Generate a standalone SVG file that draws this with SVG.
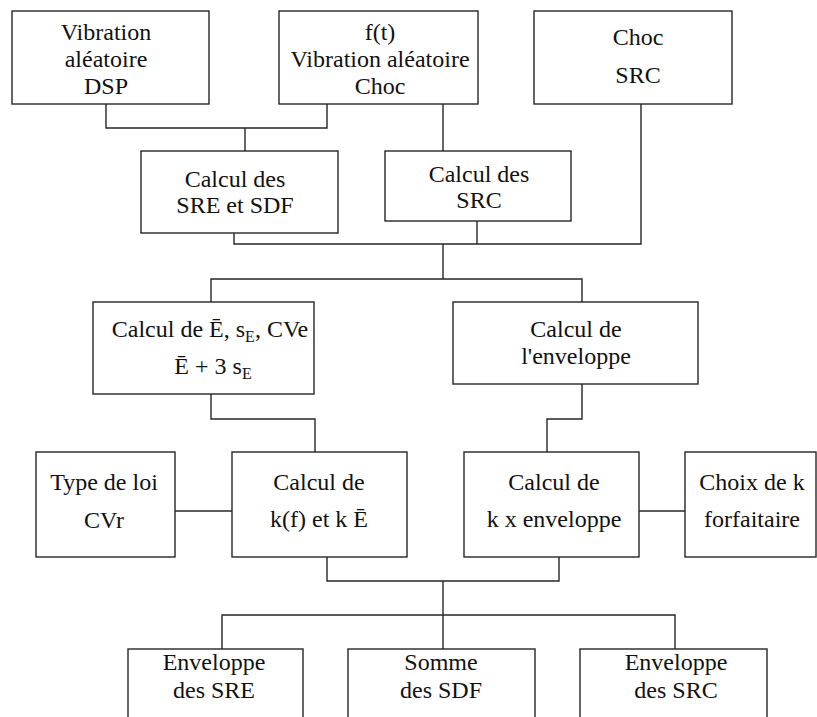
<svg xmlns="http://www.w3.org/2000/svg" width="817" height="717" viewBox="0 0 817 717">
<style>
.box{fill:#fff;stroke:#262626;stroke-width:1.4}
.wire{fill:none;stroke:#262626;stroke-width:1.4}
text{font-family:"Liberation Serif","Times New Roman",serif;font-size:24px;fill:#111;text-anchor:middle}
.sub{font-size:16px}
</style>
<rect width="817" height="717" fill="#fff"/>
<g id="connectors">
<polyline class="wire" points="106,104 106,128 327,128 327,104"/>
<polyline class="wire" points="245,128 245,151"/>
<polyline class="wire" points="443,104 443,151"/>
<polyline class="wire" points="234,233 234,244 641,244 641,104"/>
<polyline class="wire" points="477,221 477,244"/>
<polyline class="wire" points="443,244 443,279"/>
<polyline class="wire" points="211,302 211,279 582,279 582,302"/>
<polyline class="wire" points="211,394 211,419 315,419 315,452"/>
<polyline class="wire" points="582,384 582,419 547,419 547,452"/>
<polyline class="wire" points="175,511 232,511"/>
<polyline class="wire" points="639,511 685,511"/>
<polyline class="wire" points="327,557 327,581 559,581 559,557"/>
<polyline class="wire" points="443,581 443,649"/>
<polyline class="wire" points="222,649 222,615 675,615 675,649"/>
</g>
<g id="n_dsp">
<rect class="box" x="12" y="11" width="197" height="93"/>
<text x="106" y="40">Vibration</text>
<text x="106" y="67">aléatoire</text>
<text x="106" y="94">DSP</text>
</g>
<g id="n_ft">
<rect class="box" x="279" y="11" width="199" height="93"/>
<text x="380" y="40">f(t)</text>
<text x="380" y="67">Vibration aléatoire</text>
<text x="380" y="94">Choc</text>
</g>
<g id="n_choc">
<rect class="box" x="534" y="11" width="198" height="93"/>
<text x="638" y="45">Choc</text>
<text x="638" y="83">SRC</text>
</g>
<g id="n_sre_sdf">
<rect class="box" x="141" y="151" width="197" height="82"/>
<text x="235" y="187">Calcul des</text>
<text x="235" y="213">SRE et SDF</text>
</g>
<g id="n_src">
<rect class="box" x="385" y="151" width="186" height="70"/>
<text x="479" y="182">Calcul des</text>
<text x="479" y="208">SRC</text>
</g>
<g id="n_stats">
<rect class="box" x="93" y="302" width="221" height="92"/>
<text x="210" y="337">Calcul de Ē, s<tspan class="sub" dy="5">E</tspan><tspan dy="-5">, CVe</tspan></text>
<text x="213" y="374">Ē + 3 s<tspan class="sub" dy="5">E</tspan></text>
</g>
<g id="n_env">
<rect class="box" x="453" y="302" width="245" height="82"/>
<text x="576" y="337">Calcul de</text>
<text x="576" y="364">l'enveloppe</text>
</g>
<g id="n_loi">
<rect class="box" x="36" y="452" width="139" height="105"/>
<text x="104" y="490">Type de loi</text>
<text x="104" y="528">CVr</text>
</g>
<g id="n_kf">
<rect class="box" x="232" y="452" width="175" height="105"/>
<text x="319" y="490">Calcul de</text>
<text x="319" y="527">k(f) et k Ē</text>
</g>
<g id="n_kenv">
<rect class="box" x="464" y="452" width="175" height="105"/>
<text x="554" y="490">Calcul de</text>
<text x="554" y="527">k x enveloppe</text>
</g>
<g id="n_choix">
<rect class="box" x="685" y="452" width="131" height="105"/>
<text x="752" y="490">Choix de k</text>
<text x="752" y="527">forfaitaire</text>
</g>
<g id="n_env_sre">
<rect class="box" x="128" y="649" width="175" height="90"/>
<text x="214" y="670">Enveloppe</text>
<text x="214" y="698">des SRE</text>
</g>
<g id="n_somme">
<rect class="box" x="348" y="649" width="187" height="90"/>
<text x="441" y="670">Somme</text>
<text x="441" y="698">des SDF</text>
</g>
<g id="n_env_src">
<rect class="box" x="580" y="649" width="187" height="90"/>
<text x="676" y="670">Enveloppe</text>
<text x="676" y="698">des SRC</text>
</g>
</svg>
